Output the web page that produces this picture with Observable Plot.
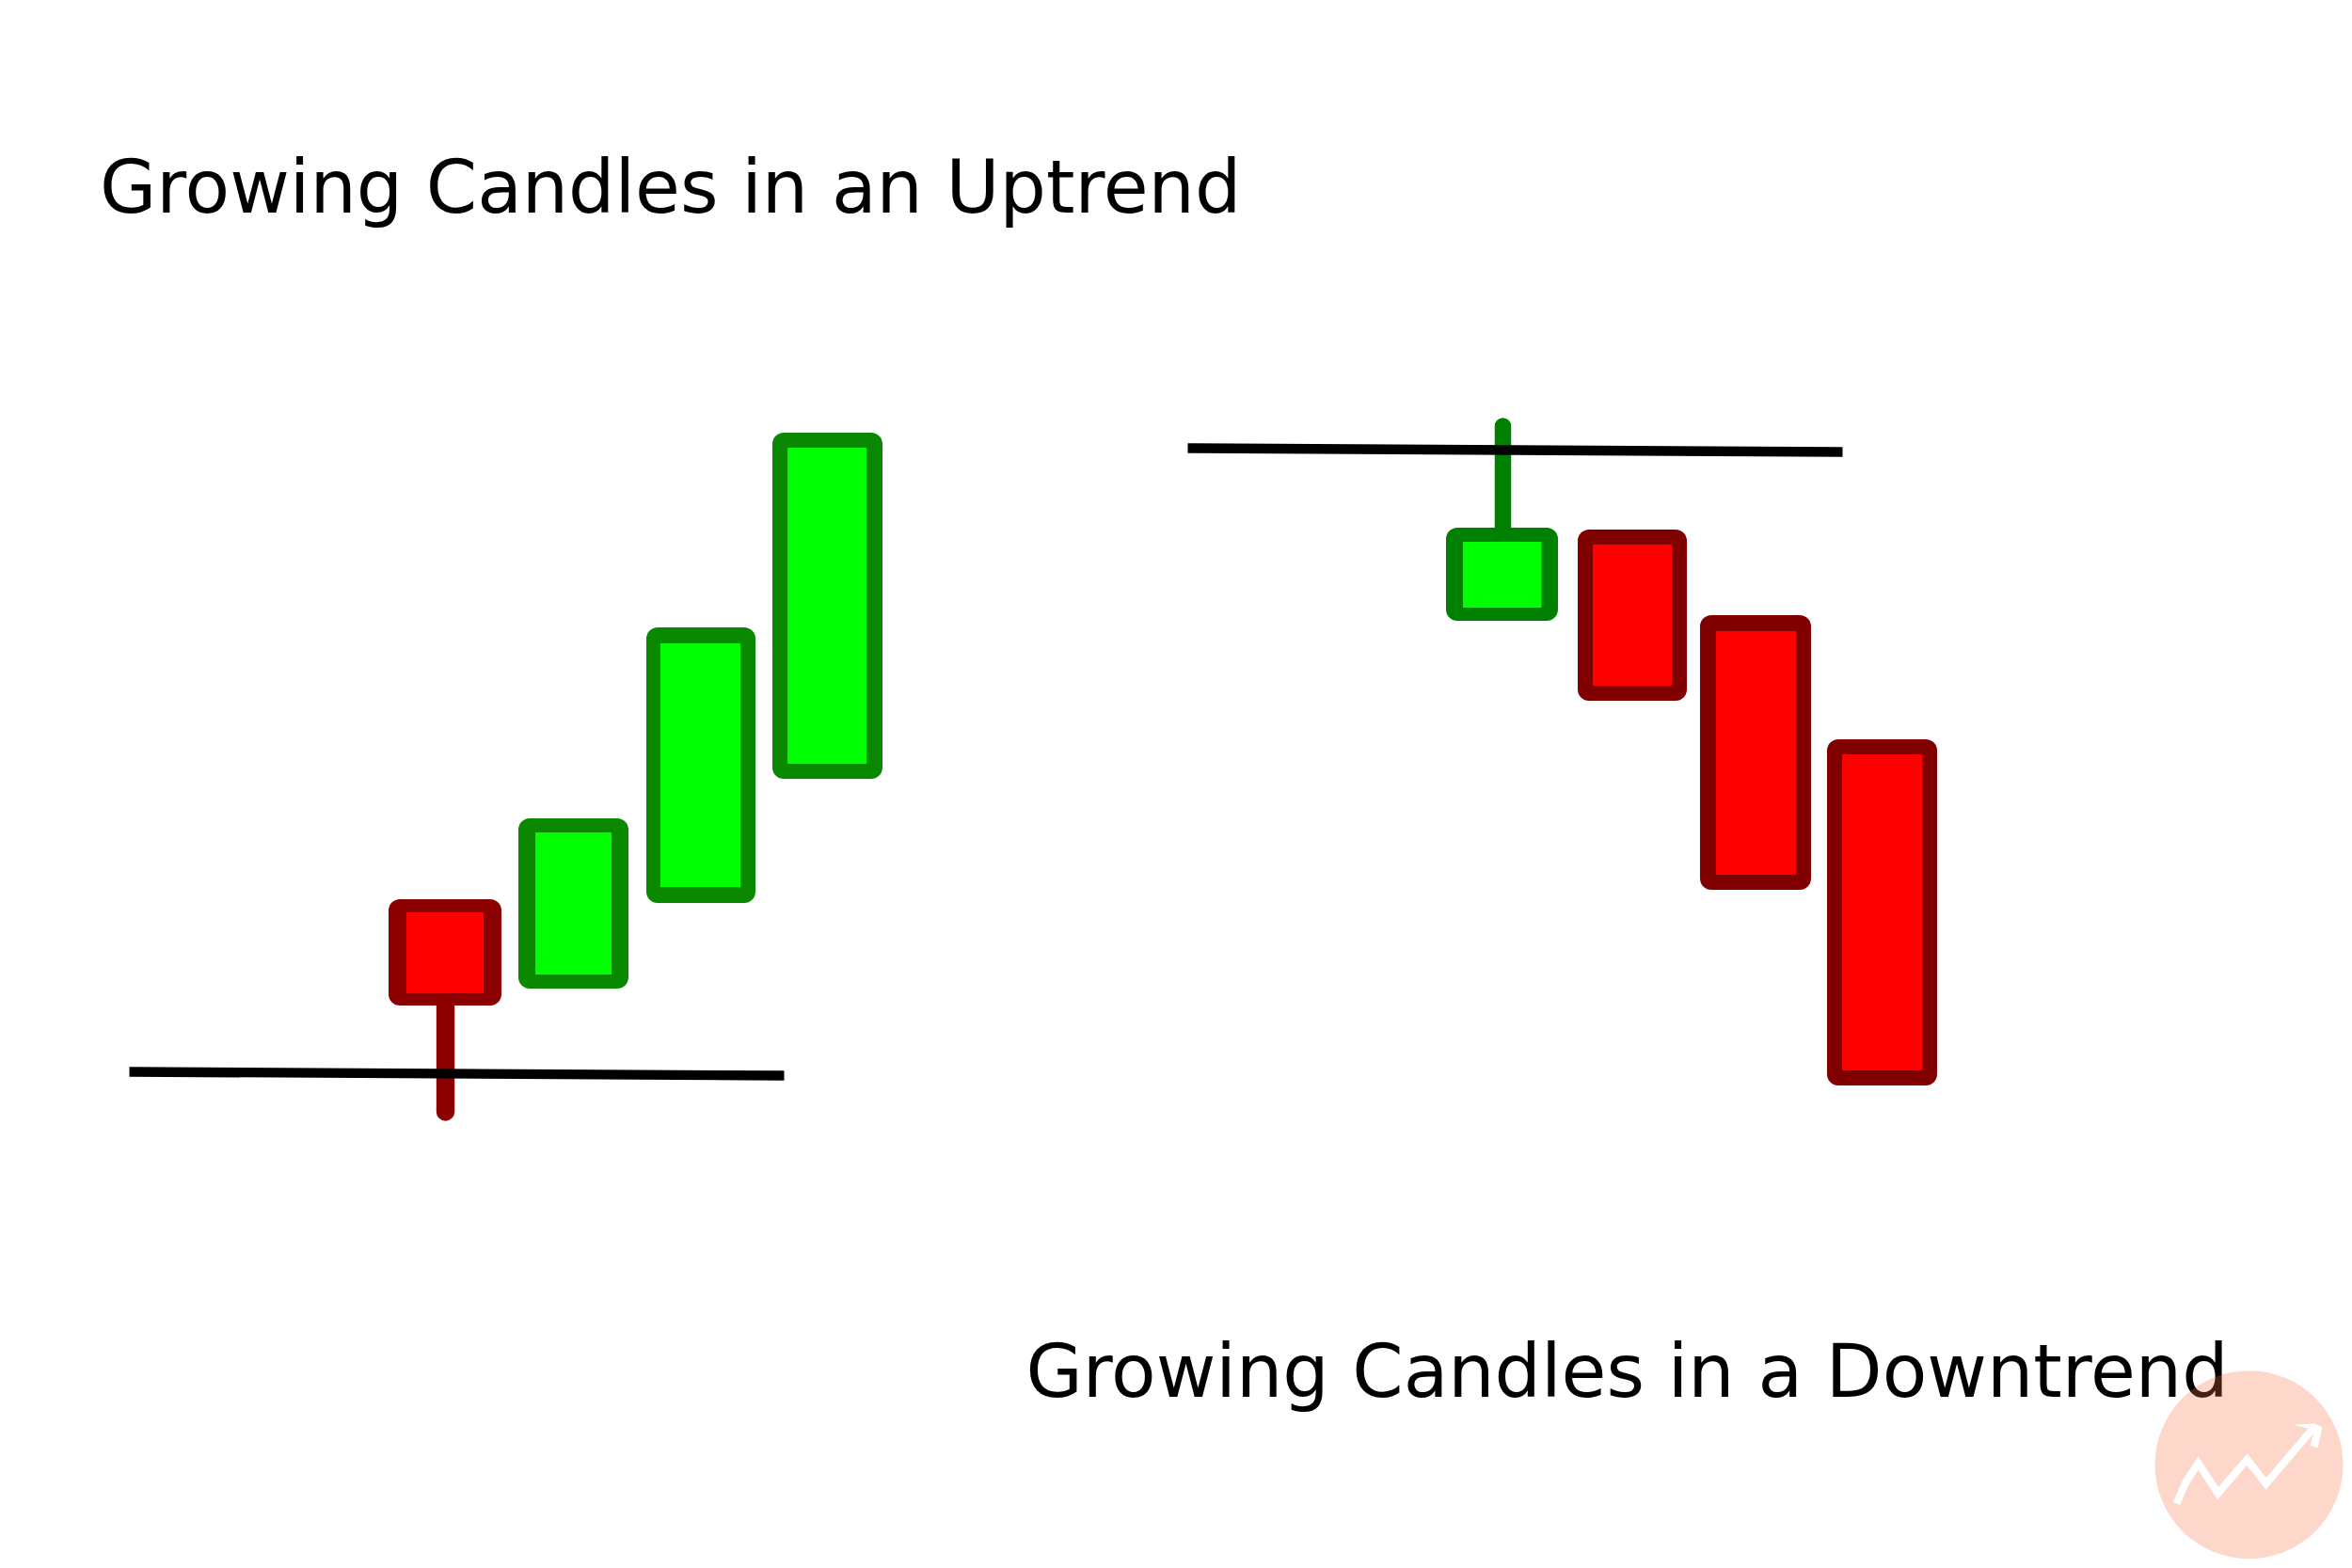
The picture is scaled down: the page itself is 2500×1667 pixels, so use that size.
<!DOCTYPE html>
<html>
<head>
<meta charset="utf-8">
<script src="https://cdn.jsdelivr.net/npm/d3@7"></script>
<script src="https://cdn.jsdelivr.net/npm/@observablehq/plot@0.6"></script>
<style>html,body{margin:0;padding:0;background:#fff}svg{display:block}</style>
</head>
<body>
<div id="chart"></div>
<script>
const PAGE_W = 2500, PAGE_H = 1667;

// Candles, in picture units, left chart then right chart
const candleKind   = ["upRed","upGreen","upGreen","upGreen","downGreen","downRed","downRed","downRed"];
const outerLeft    = [413, 551, 687, 821, 1537, 1677, 1807, 1942];
const outerRight   = [533, 668, 803, 938, 1656, 1793, 1925, 2059];
const outerTop     = [956, 870, 667, 460, 561, 563, 654, 786];
const outerBottom  = [1069, 1051, 960, 828, 660, 745, 946, 1154];
const innerLeft    = [432, 569, 702, 837, 1555, 1693, 1824, 1958];
const innerRight   = [514, 650, 787, 921, 1638.5, 1777, 1909, 2043];
const innerTop     = [970, 885, 684, 476, 576, 579, 671, 802];
const innerBottom  = [1056, 1036, 943, 812, 646, 729, 930, 1138];

const borderColours = {upRed:"#8b0000", upGreen:"#0a8800", downGreen:"#008000", downRed:"#800000"};
const fillColours   = {upRed:"#ff0000", upGreen:"#00ff00", downGreen:"#00ff00", downRed:"#ff0000"};

// Wicks
const wickX    = [473, 1597];
const wickFrom = [1069, 453];
const wickTo   = [1182, 567];
const wickWide = [19.4, 17.5];
const wickHue  = ["#8b0000", "#008000"];

// Sloped trend lines
const trendX1 = [137, 1262];
const trendY1 = [1139, 476];
const trendX2 = [833, 1958];
const trendY2 = [1143, 480];

// Titles
const titleText = ["Growing Candles in an Uptrend", "Growing Candles in a Downtrend"];
const titleX = [105.5, 1090];
const titleY = [225, 1484];

// Watermark
const badgeX = [2390], badgeY = [1556.7];
const zigX = [2313, 2323, 2336, 2357, 2388, 2408, 2460];
const zigY = [1598, 1575, 1555, 1587, 1551, 1577, 1516];
const headX = [2437, 2460, 2468, 2463, 2455, 2460];
const headY = [1514, 1513, 1517, 1539, 1536, 1520];

const idx = candleKind.map((_, i) => i);
const wickIdx = wickX.map((_, i) => i);
const trendIdx = trendX1.map((_, i) => i);
const titleIdx = titleText.map((_, i) => i);
const zig = zigX.map((x, i) => ({x, y: zigY[i]}));
const head = headX.map((x, i) => ({x, y: headY[i]}));

const plot = Plot.plot({
  width: PAGE_W, height: PAGE_H,
  marginTop: 0, marginRight: 0, marginBottom: 0, marginLeft: 0,
  style: {background: "#fff"},
  x: {domain: [0, PAGE_W], range: [0, PAGE_W], axis: null},
  y: {domain: [0, PAGE_H], range: [0, PAGE_H], axis: null},
  marks: [
    Plot.rect(idx, {
      x1: i => outerLeft[i], x2: i => outerRight[i],
      y1: i => outerTop[i], y2: i => outerBottom[i],
      fill: i => borderColours[candleKind[i]], rx: 12
    }),
    Plot.rect(idx, {
      x1: i => innerLeft[i], x2: i => innerRight[i],
      y1: i => innerTop[i], y2: i => innerBottom[i],
      fill: i => fillColours[candleKind[i]]
    }),
    ...wickIdx.map(i => Plot.ruleX([wickX[i]], {
      y1: wickFrom[i], y2: wickTo[i], stroke: wickHue[i],
      strokeWidth: wickWide[i], strokeLinecap: "round"
    })),
    ...trendIdx.map(i => Plot.line([[trendX1[i], trendY1[i]], [trendX2[i], trendY2[i]]], {
      stroke: "#000", strokeWidth: 10.4, strokeLinecap: "butt"
    })),
    Plot.text(titleIdx, {
      x: i => titleX[i], y: i => titleY[i], text: i => titleText[i],
      textAnchor: "start", lineAnchor: "bottom",
      fontFamily: "DejaVu Sans", fontSize: 77.8, fill: "#000"
    }),
    Plot.dot(badgeX.map((x, i) => ({x, y: badgeY[i]})), {
      x: "x", y: "y", r: 100, fill: "#fb6f45", fillOpacity: 0.28, stroke: "none"
    }),
    Plot.line(zig, {
      x: "x", y: "y", stroke: "#fff", strokeWidth: 8,
      strokeLinecap: "butt", strokeLinejoin: "miter", strokeMiterlimit: 4
    }),
    Plot.line(head, {x: "x", y: "y", fill: "#fff", stroke: "none"})
  ]
});
document.getElementById("chart").appendChild(plot);
</script>
</body>
</html>
